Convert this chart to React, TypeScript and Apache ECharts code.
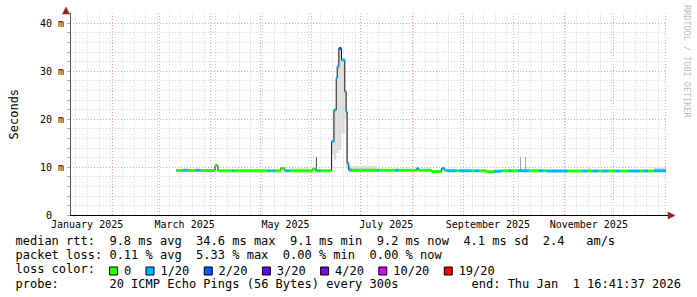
import React, { useEffect, useRef } from 'react';
import * as echarts from 'echarts';

// x values: days since 2025-01-01 00:00
const axisStartDay = 5.16;
const axisEndDay = 365.7; // Thu Jan 1 2026 16:41:37
const weekOriginDay = 4; // Sunday 2025-01-05
const yMax = 42;

const monthStarts = [31, 59, 90, 120, 151, 181, 212, 243, 273, 304, 334, 365];
const monthLabelDays = [15.5, 74.5, 135.5, 196.5, 258, 319];
const monthLabels = ['January 2025', 'March 2025', 'May 2025', 'July 2025', 'September 2025', 'November 2025'];

const lossNames = ['0', '1/20', '2/20', '3/20', '4/20', '10/20', '19/20'];
const lossColors = ['#26ff00', '#00b8ff', '#0059ff', '#5e00ff', '#7e00ff', '#dd00ff', '#ff0000'];

// median rtt (ms), step segments
const medianStart = [
  69.5, 73.7, 76.7, 80.9, 83.9, 92.9, 94.7, 103.1, 104.3, 124.7,
  126.5, 127.7, 129.5, 132.6, 135.0, 135.6, 138.0, 151.8, 153.6, 154.8,
  156.6, 163.4, 164.8, 166.2, 166.8, 167.8, 169.4, 171.4, 172.2, 172.8,
  173.8, 175.4, 190.8, 192.6, 201.7, 204.1, 214.9, 216.1, 223.9, 229.9,
  231.7, 232.9, 238.9, 240.7, 247.9, 249.7, 252.7, 256.9, 261.7, 266.0,
  270.8, 272.0, 276.2, 282.8, 288.8, 291.2, 293.0, 306.2, 315.2, 318.2,
  321.2, 324.8, 327.2, 330.8, 335.1, 338.1, 342.9, 350.1, 351.9, 354.9,
  358.5,
];
const medianEnd = 365.7;
const medianMs = [
  9.25, 9.3, 9.25, 9.3, 9.25, 10.3, 9.2, 9.2, 9.2, 9.2,
  9.2, 9.2, 9.2, 9.7, 9.2, 9.2, 9.2, 9.6, 9.2, 9.2,
  9.2, 15.3, 21.9, 28.5, 30.9, 34.7, 32.3, 25.7, 21.5, 10.8,
  9.4, 9.3, 9.3, 9.3, 9.3, 9.3, 9.7, 9.3, 9.05, 9.7,
  9.3, 9.2, 9.2, 9.2, 9.2, 9.2, 9.2, 9.0, 9.1, 9.2,
  9.2, 9.2, 9.2, 9.2, 9.2, 9.2, 9.15, 9.15, 9.15, 9.15,
  9.15, 9.15, 9.15, 9.15, 9.15, 9.15, 9.15, 9.15, 9.15, 9.15,
  9.2,
];
const medianLoss = [
  0, 1, 0, 1, 0, 0, 0, 1, 0, 1,
  0, 1, 0, 0, 0, 1, 0, 0, 0, 1,
  0, 1, 1, 1, 1, 2, 1, 1, 1, 1,
  1, 0, 1, 0, 1, 0, 1, 0, 0, 1,
  0, 1, 0, 1, 0, 1, 0, 0, 1, 0,
  1, 0, 1, 0, 1, 0, 1, 0, 1, 0,
  1, 0, 1, 0, 1, 0, 1, 0, 1, 0,
  1,
];

// smoke (ping spread) bands
const smokeStart = [163.4, 164.8, 166.2, 166.8, 167.8, 169.4, 171.4, 172.2, 172.8, 173.8, 138.0, 318.2, 358.5, 153.9, 277.4, 280.4];
const smokeEnd = [164.8, 166.2, 166.8, 167.8, 169.4, 171.4, 172.2, 172.8, 173.8, 190.8, 150.0, 320.0, 365.7, 154.5, 277.8, 280.8];
const smokeLo = [12.5, 11.5, 12.9, 12.9, 13.5, 17.0, 20.0, 10.0, 9.5, 9.0, 9.0, 9.0, 9.0, 9.2, 9.2, 9.2];
const smokeHi = [15.3, 21.9, 28.5, 30.9, 34.7, 32.3, 25.7, 21.5, 10.8, 10.2, 9.7, 9.9, 9.9, 12.1, 12.1, 12.1];
const smokeShade = [0, 0, 0, 0, 0, 0, 0, 0, 0, 0, 0, 0, 0, 2, 1, 1];
const shadeColors = ['#dcdcdc', '#8c8c8c', '#454545'];

const statsLines = [
  'median rtt:  9.8 ms avg  34.6 ms max  9.1 ms min  9.2 ms now  4.1 ms sd  2.4   am/s',
  'packet loss: 0.11 % avg  5.33 % max  0.00 % min  0.00 % now',
  'loss color:',
  'probe:       20 ICMP Echo Pings (56 Bytes) every 300s',
];
const endText = 'end: Thu Jan  1 16:41:37 2026';
const watermark = 'RRDTOOL / TOBI OETIKER';

const MONO = '"DejaVu Sans Mono", monospace';
const CW = 7.224;
const lineY = [241, 255.3, 269, 283.5];
const ARROW = '#8f2222';

function tokens(line: string) {
  const out: { idx: number; t: string }[] = [];
  const re = /\S+(?: \S+)*/g;
  let m: RegExpExecArray | null;
  while ((m = re.exec(line))) out.push({ idx: m.index, t: m[0] });
  return out;
}

function buildOption() {
  const n = medianStart.length;
  const medianLine: any[] = medianStart.map((s, i) => [s, medianMs[i]]);
  medianLine.push([medianEnd, medianMs[n - 1]]);

  const lossSeries = lossNames.map((name, b) => {
    const data: any[] = [];
    for (let i = 0; i < n; i++) {
      if (medianLoss[i] !== b) continue;
      const e = i + 1 < n ? medianStart[i + 1] : medianEnd;
      data.push([medianStart[i], medianMs[i]], [e, medianMs[i]], [e, '-']);
    }
    return {
      type: 'line',
      name,
      data,
      showSymbol: false,
      symbol: 'none',
      connectNulls: false,
      silent: true,
      z: 4,
      itemStyle: { color: lossColors[b] },
      lineStyle: { color: lossColors[b], width: 3, cap: 'butt' },
    };
  });

  const graphics: any[] = [];
  graphics.push({
    type: 'polygon',
    z: 100,
    shape: { points: [[62.5, 14], [69.5, 14], [66, 7]] },
    style: { fill: ARROW, stroke: ARROW, lineWidth: 0.5 },
  });
  graphics.push({
    type: 'polygon',
    z: 100,
    shape: { points: [[668, 212], [668, 219], [675, 215.5]] },
    style: { fill: ARROW, stroke: ARROW, lineWidth: 0.5 },
  });
  graphics.push({ type: 'line', z: 99, shape: { x1: 666, y1: 215.5, x2: 669, y2: 215.5 }, style: { stroke: '#000', lineWidth: 1 } });

  statsLines.forEach((line, li) => {
    tokens(line).forEach(({ idx, t }) => {
      graphics.push({
        type: 'text',
        x: 15.5 + idx * CW,
        y: lineY[li],
        style: { text: t, font: `12px ${MONO}`, fill: '#000', textVerticalAlign: 'middle', verticalAlign: 'middle' },
      });
    });
  });
  const endX = 681 - endText.length * CW;
  tokens(endText).forEach(({ idx, t }) => {
    graphics.push({
      type: 'text',
      x: endX + idx * CW,
      y: lineY[3],
      style: { text: t, font: `12px ${MONO}`, fill: '#000', textVerticalAlign: 'middle', verticalAlign: 'middle' },
    });
  });
  graphics.push({
    type: 'text',
    x: 687,
    y: 5,
    rotation: -Math.PI / 2,
    style: { text: watermark, font: `8.5px ${MONO}`, fill: '#bdbdbd', textVerticalAlign: 'middle', verticalAlign: 'middle', textAlign: 'left', align: 'left' },
  });

  const gridTop = 13.4;
  const gridBottom = 82;

  return {
    animation: false,
    backgroundColor: '#ffffff',
    grid: [
      { left: 66, right: 31, top: gridTop, bottom: gridBottom },
      {
        left: 66 - (axisStartDay - weekOriginDay) * (600 / (axisEndDay - axisStartDay)),
        right: 31,
        top: gridTop,
        bottom: gridBottom,
      },
    ],
    xAxis: [
      {
        type: 'value',
        gridIndex: 0,
        min: axisStartDay,
        max: axisEndDay,
        axisLine: { show: true, onZero: false, lineStyle: { color: '#000', width: 1 } },
        axisTick: { show: false },
        splitLine: { show: false },
        axisLabel: {
          customValues: monthLabelDays,
          margin: 4,
          fontFamily: MONO,
          fontSize: 10,
          color: '#000',
          formatter: (v: number) => {
            const k = monthLabelDays.findIndex((d) => Math.abs(d - v) < 0.01);
            return k >= 0 ? monthLabels[k] : '';
          },
        },
      },
      {
        type: 'value',
        gridIndex: 1,
        min: 0,
        max: axisEndDay - weekOriginDay,
        interval: 7,
        axisLine: { show: false },
        axisTick: { show: false },
        axisLabel: { show: false },
        splitLine: { show: true, showMinLine: false, showMaxLine: false, lineStyle: { color: '#d2d2d2', width: 1, type: [1, 2] } },
      },
    ],
    yAxis: [
      {
        type: 'value',
        gridIndex: 0,
        position: 'left',
        min: 0,
        max: yMax,
        interval: 2,
        axisLine: { show: false },
        axisTick: { show: true, length: 3, lineStyle: { color: '#aaaaaa' } },
        axisLabel: { show: false },
        splitLine: { show: true, showMinLine: false, showMaxLine: false, lineStyle: { color: '#d2d2d2', width: 1, type: [1, 2] } },
      },
      {
        type: 'value',
        gridIndex: 0,
        position: 'left',
        min: 0,
        max: yMax,
        interval: 10,
        name: 'Seconds',
        nameLocation: 'middle',
        nameRotate: 90,
        nameGap: 50,
        nameTextStyle: { fontFamily: MONO, fontSize: 12, color: '#000' },
        axisLine: { show: true, lineStyle: { color: '#555555', width: 1 } },
        axisTick: { show: false },
        axisLabel: {
          margin: 6,
          fontFamily: MONO,
          fontSize: 10,
          color: '#000',
          showMaxLabel: false,
          formatter: (v: number) => (v === 0 ? '{z|0}' : v % 10 === 0 ? `${v} m` : ''),
          rich: { z: { fontFamily: MONO, fontSize: 10, color: '#000', padding: [0, 12, 0, 0] } },
        },
        splitLine: { show: true, showMinLine: false, showMaxLine: false, lineStyle: { color: '#e8a3a3', width: 1, type: [1, 2] } },
      },
      { type: 'value', gridIndex: 1, position: 'left', min: 0, max: yMax, show: false },
    ],
    legend: {
      data: lossNames,
      left: 109,
      top: 265,
      padding: 0,
      itemWidth: 8,
      itemHeight: 8,
      itemGap: 14.4,
      icon: 'rect',
      selectedMode: false,
      itemStyle: { borderColor: '#000', borderWidth: 1 },
      textStyle: { fontFamily: MONO, fontSize: 12, color: '#000', padding: [0, 0, 0, 1.4] },
    },
    series: [
      {
        type: 'line',
        name: 'months',
        data: [],
        silent: true,
        markLine: {
          silent: true,
          z: 1,
          symbol: ['none', 'none'],
          label: { show: false },
          lineStyle: { color: '#e8a3a3', width: 1, type: [1, 2] },
          data: monthStarts.map((d) => ({ xAxis: d })),
        },
      },
      {
        type: 'custom',
        name: 'smoke',
        silent: true,
        z: 2,
        encode: { x: [0, 1], y: [2, 3] },
        data: smokeStart.map((s, i) => [s, smokeEnd[i], smokeLo[i], smokeHi[i], smokeShade[i]]),
        renderItem: (params: any, api: any) => {
          const a = api.coord([api.value(0), api.value(3)]);
          const b = api.coord([api.value(1), api.value(2)]);
          return {
            type: 'rect',
            shape: { x: a[0], y: a[1], width: Math.max(b[0] - a[0], 0.8), height: b[1] - a[1] },
            style: { fill: shadeColors[api.value(4)] },
          };
        },
      },
      {
        type: 'line',
        name: 'median',
        step: 'end',
        data: medianLine,
        showSymbol: false,
        symbol: 'none',
        silent: true,
        z: 3,
        lineStyle: { color: '#111111', width: 1 },
      },
      ...lossSeries,
    ],
    graphic: graphics,
  };
}

export default function App() {
  const ref = useRef<HTMLDivElement>(null);
  useEffect(() => {
    const chart = echarts.init(ref.current!, null, { renderer: 'svg' });
    chart.setOption(buildOption() as any);
    return () => chart.dispose();
  }, []);
  return (
    <div
      ref={ref}
      style={{ position: 'fixed', left: 0, top: 0, width: 697, height: 297, background: '#fff' }}
    />
  );
}
